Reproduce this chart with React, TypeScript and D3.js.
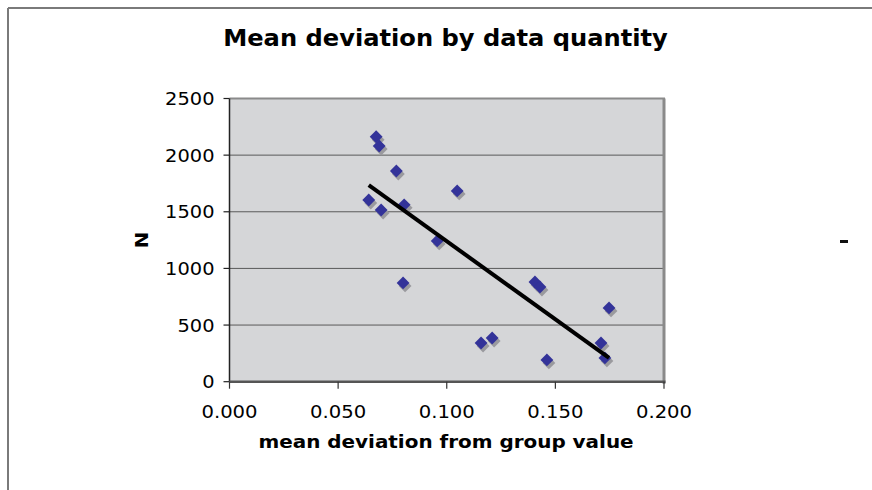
import React from "react";
import * as d3 from "d3";

// mean deviation from group value
const deviation = [
  0.0675, 0.0689, 0.0768, 0.0641, 0.0698, 0.0804, 0.1048, 0.0956, 0.0799,
  0.1158, 0.1209, 0.1406, 0.1429, 0.1461, 0.171, 0.1747, 0.1728,
];
// N
const counts = [
  2162, 2081, 1860, 1604, 1516, 1561, 1684, 1243, 872, 342, 386, 880, 836, 192,
  342, 651, 210,
];
const xTicks = [0, 0.05, 0.1, 0.15, 0.2];
const yTicks = [0, 500, 1000, 1500, 2000, 2500];

const W = 872;
const H = 490;
const plot = { left: 229.5, top: 98.5, right: 664, bottom: 381.7 };

// text drawn with a slight horizontal widening, Verdana-style
function Label(props: {
  x: number;
  y: number;
  sx?: number;
  rotate?: number;
  anchor?: "start" | "middle" | "end";
  size: number;
  bold?: boolean;
  dy?: string;
  children: React.ReactNode;
}) {
  const { x, y, sx = 1, rotate = 0, anchor = "middle", size, bold, dy, children } = props;
  return (
    <text
      transform={`translate(${x},${y}) rotate(${rotate}) scale(${sx},1)`}
      textAnchor={anchor}
      fontSize={size}
      fontWeight={bold ? "bold" : "normal"}
      dy={dy}
      fill="#000"
    >
      {children}
    </text>
  );
}

export default function App() {
  const x = d3.scaleLinear().domain([0, 0.2]).range([plot.left, plot.right]);
  const y = d3.scaleLinear().domain([0, 2500]).range([plot.bottom, plot.top]);

  // least-squares trendline across the range of the data
  const mx = d3.mean(deviation) as number;
  const my = d3.mean(counts) as number;
  let sxy = 0;
  let sxx = 0;
  deviation.forEach((d, i) => {
    sxy += (d - mx) * (counts[i] - my);
    sxx += (d - mx) * (d - mx);
  });
  const slope = sxy / sxx;
  const icpt = my - slope * mx;
  const [x0, x1] = d3.extent(deviation) as [number, number];
  const trend = d3.line<number>()
    .x((d) => x(d))
    .y((d) => y(icpt + slope * d))([x0, x1]);

  const diamond = d3.symbol().type(d3.symbolDiamond2).size(105)() as string;
  const font = "'DejaVu Sans', Verdana, sans-serif";

  return (
    <svg
      width={W}
      height={H}
      style={{ position: "absolute", left: 0, top: 0, background: "#fff" }}
      fontFamily={font}
    >
      {/* chart frame */}
      <line x1={8} y1={8} x2={W} y2={8} stroke="#7a7a7a" strokeWidth={2} />
      <line x1={8} y1={8} x2={8} y2={H} stroke="#7a7a7a" strokeWidth={2} />

      <Label x={445.5} y={46} size={23} sx={1.05} bold>
        Mean deviation by data quantity
      </Label>

      {/* plot area */}
      <rect
        x={plot.left}
        y={plot.top}
        width={plot.right - plot.left}
        height={plot.bottom - plot.top}
        fill="#d5d6d8"
      />
      {yTicks.slice(1, -1).map((t) => (
        <line key={t} x1={plot.left} x2={plot.right} y1={y(t)} y2={y(t)} stroke="#5a5a5a" strokeWidth={1} />
      ))}
      {/* plot border: top and right edges */}
      <line x1={plot.left} x2={plot.right + 1} y1={plot.top} y2={plot.top} stroke="#8a8a8a" strokeWidth={2} />
      <line x1={plot.right} x2={plot.right} y1={plot.top} y2={plot.bottom + 2} stroke="#8a8a8a" strokeWidth={3} />

      {/* y axis */}
      <line x1={plot.left} x2={plot.left} y1={plot.top} y2={plot.bottom} stroke="#222" strokeWidth={1.5} />
      {yTicks.map((t) => (
        <g key={t}>
          <line x1={plot.left - 6} x2={plot.left} y1={y(t)} y2={y(t)} stroke="#222" strokeWidth={1.2} />
          <Label x={plot.left - 15} y={y(t)} dy="0.36em" anchor="end" size={18.5} sx={1.05}>
            {t}
          </Label>
        </g>
      ))}

      {/* x axis */}
      <line x1={plot.left} x2={plot.right + 1.5} y1={plot.bottom} y2={plot.bottom} stroke="#555" strokeWidth={2.5} />
      {xTicks.map((t) => (
        <g key={t}>
          <line x1={x(t)} x2={x(t)} y1={plot.bottom} y2={plot.bottom + 7} stroke="#333" strokeWidth={1.2} />
          <Label x={x(t)} y={411} dy="0.36em" size={18.5} sx={1.06}>
            {d3.format(".3f")(t)}
          </Label>
        </g>
      ))}

      <Label x={446} y={448} size={17.5} sx={1.14} bold>
        mean deviation from group value
      </Label>
      <Label x={148} y={240} rotate={-90} size={18} sx={1.1} bold>
        N
      </Label>

      {/* markers with drop shadow */}
      {deviation.map((d, i) => (
        <path key={`s${i}`} d={diamond} transform={`translate(${x(d) + 2},${y(counts[i]) + 3})`} fill="#9a9a9e" />
      ))}
      {deviation.map((d, i) => (
        <path key={`m${i}`} d={diamond} transform={`translate(${x(d)},${y(counts[i])})`} fill="#333399" />
      ))}

      <path d={trend as string} fill="none" stroke="#000" strokeWidth={4} />

      {/* legend key remnant */}
      <rect x={840} y={240} width={8} height={3} fill="#111" />
    </svg>
  );
}
